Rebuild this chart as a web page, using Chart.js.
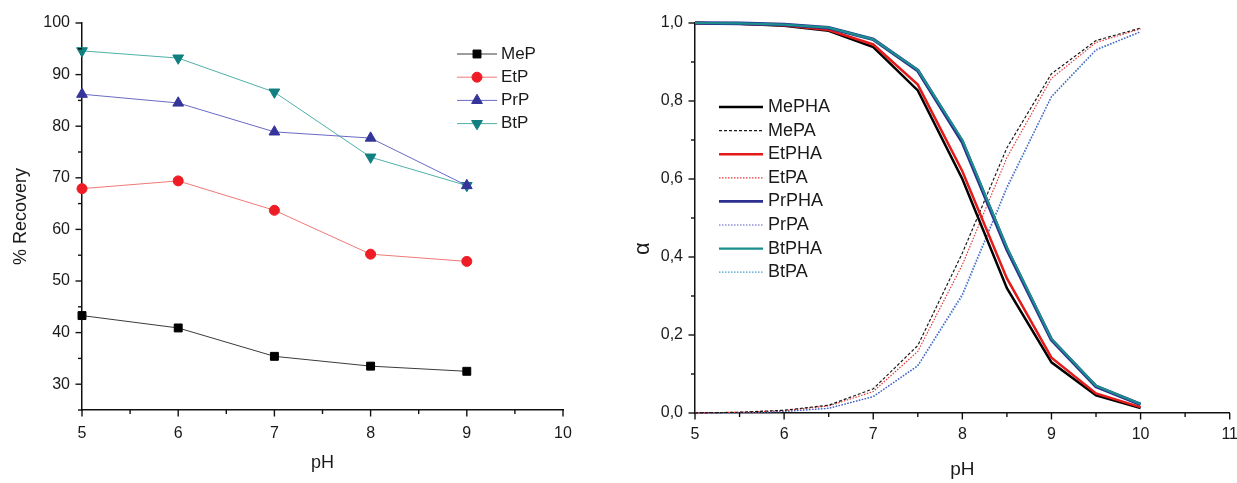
<!DOCTYPE html>
<html lang="en">
<head>
  <meta charset="UTF-8" />
  <title>Recovery and alpha vs pH</title>
  <script src="https://cdn.jsdelivr.net/npm/chart.js"></script>
  <style>
    html, body { margin: 0; padding: 0; background: #fff; overflow: hidden; }
    body { width: 1237px; height: 483px; position: relative; }
    .box { position: absolute; top: 0; height: 483px; }
    #leftBox { left: 0; width: 610px; }
    #rightBox { left: 620px; width: 630px; }
  </style>
</head>
<body>
<div class="box" id="leftBox"><canvas id="recoveryChart"></canvas></div>
<div class="box" id="rightBox"><canvas id="alphaChart"></canvas></div>

<script>
  // left panel: % recovery vs pH
  const phRecovery = [5, 6, 7, 8, 9];
  const mepRecovery = [43.3, 40.9, 35.4, 33.5, 32.5];
  const etpRecovery = [67.9, 69.4, 63.7, 55.2, 53.8];
  const prpRecovery = [86.2, 84.5, 78.9, 77.7, 68.5];
  const btpRecovery = [94.6, 93.2, 86.6, 74.0, 68.5];

  // right panel: fraction alpha vs pH
  const phAlpha = [5, 5.5, 6, 6.5, 7, 7.5, 8, 8.5, 9, 9.5, 10];
  const mePHA = [1.0, 0.998, 0.993, 0.98, 0.938, 0.827, 0.60, 0.32, 0.13, 0.045, 0.013];
  const mePA  = [0.0, 0.002, 0.007, 0.02, 0.062, 0.173, 0.41, 0.68, 0.87, 0.955, 0.987];
  const etPHA = [1.0, 0.998, 0.994, 0.982, 0.945, 0.842, 0.62, 0.345, 0.142, 0.05, 0.015];
  const etPA  = [0.0, 0.002, 0.006, 0.018, 0.055, 0.158, 0.38, 0.655, 0.858, 0.95, 0.985];
  const prPHA = [1.0, 0.999, 0.996, 0.988, 0.958, 0.878, 0.695, 0.42, 0.188, 0.068, 0.022];
  const prPA  = [0.0, 0.001, 0.004, 0.012, 0.042, 0.122, 0.305, 0.58, 0.812, 0.932, 0.978];
  const btPHA = [1.0, 0.999, 0.996, 0.988, 0.958, 0.88, 0.70, 0.425, 0.19, 0.07, 0.023];
  const btPA  = [0.0, 0.001, 0.004, 0.012, 0.042, 0.12, 0.30, 0.575, 0.81, 0.93, 0.977];

  const FONT = '"Liberation Sans", Arial, sans-serif';
  Chart.defaults.font.family = FONT;
  Chart.defaults.color = '#1a1a1a';

  const pts = (xs, ys) => xs.map((x, i) => ({ x, y: ys[i] }));

  // outward tick marks, long for labelled ticks and short for the others
  const tickMarks = {
    id: 'tickMarks',
    afterDraw(chart) {
      const { ctx, chartArea } = chart;
      ctx.save();
      ctx.strokeStyle = '#111';
      ctx.lineWidth = 1.4;
      Object.values(chart.scales).forEach(scale => {
        scale.ticks.forEach(t => {
          const len = t.label !== '' ? 6.5 : 4;
          const p = scale.getPixelForValue(t.value);
          ctx.beginPath();
          if (scale.isHorizontal()) {
            ctx.moveTo(p, chartArea.bottom);
            ctx.lineTo(p, chartArea.bottom + len);
          } else {
            ctx.moveTo(chartArea.left, p);
            ctx.lineTo(chartArea.left - len, p);
          }
          ctx.stroke();
        });
      });
      ctx.restore();
    }
  };

  // legend drawn inside the plot area
  const insideLegend = {
    id: 'insideLegend',
    afterDatasetsDraw(chart, args, opts) {
      const { ctx, chartArea } = chart;
      const x0 = chartArea.left + opts.x;
      const y0 = chartArea.top + opts.y;
      ctx.save();
      ctx.font = opts.fontSize + 'px ' + FONT;
      ctx.textBaseline = 'middle';
      chart.data.datasets.forEach((ds, i) => {
        const y = y0 + i * opts.rowHeight;
        ctx.strokeStyle = ds.borderColor;
        ctx.lineWidth = Math.min(ds.borderWidth, 2.6);
        ctx.setLineDash(ds.borderDash || []);
        ctx.beginPath();
        ctx.moveTo(x0, y);
        ctx.lineTo(x0 + opts.lineLength, y);
        ctx.stroke();
        ctx.setLineDash([]);
        if (ds.pointRadius) {
          ctx.fillStyle = ds.pointBackgroundColor;
          ctx.strokeStyle = ds.pointBorderColor;
          ctx.lineWidth = 1;
          Chart.helpers.drawPoint(ctx, {
            pointStyle: ds.pointStyle, rotation: ds.pointRotation || 0,
            radius: ds.pointRadius, borderWidth: 1
          }, x0 + opts.lineLength / 2, y);
        }
        ctx.fillStyle = '#1a1a1a';
        ctx.fillText(ds.label, x0 + opts.lineLength + opts.gap, y);
      });
      ctx.restore();
    }
  };

  function markerSet(label, ys, lineColor, markColor, style, radius, rot) {
    return {
      label, data: pts(phRecovery, ys),
      borderColor: lineColor, borderWidth: 1,
      pointStyle: style, pointRadius: radius, pointRotation: rot || 0,
      pointBackgroundColor: markColor, pointBorderColor: markColor, pointBorderWidth: 1,
      clip: false
    };
  }

  new Chart(document.getElementById('recoveryChart'), {
    type: 'line',
    data: {
      datasets: [
        markerSet('MeP', mepRecovery, '#3a3a3a', '#000000', 'rect', 5.6),
        markerSet('EtP', etpRecovery, '#f07878', '#ee1c25', 'circle', 5),
        markerSet('PrP', prpRecovery, '#6a6ac4', '#34349a', 'triangle', 6.2),
        markerSet('BtP', btpRecovery, '#4fb0a8', '#0f7f7f', 'triangle', 6.2, 180)
      ]
    },
    options: {
      responsive: true,
      maintainAspectRatio: false,
      animation: false,
      layout: { padding: { top: 23, right: 47, left: 0, bottom: 0 } },
      plugins: {
        legend: { display: false },
        tooltip: { enabled: false },
        insideLegend: { x: 375, y: 31, lineLength: 40, gap: 4, rowHeight: 23.2, fontSize: 17 }
      },
      scales: {
        x: {
          type: 'linear', min: 5, max: 10,
          grid: { display: false, drawTicks: false },
          border: { display: true, color: '#111', width: 1.5 },
          ticks: {
            stepSize: 0.5, autoSkip: false, maxRotation: 0, padding: 14,
            font: { size: 16 },
            callback: v => Number.isInteger(v) ? String(v) : ''
          },
          title: { display: true, text: 'pH', font: { size: 18 }, padding: { top: 0, bottom: 9 } },
          afterFit: s => { s.height = 73; }
        },
        y: {
          min: 25, max: 100,
          grid: { display: false, drawTicks: false },
          border: { display: true, color: '#111', width: 1.5 },
          ticks: {
            stepSize: 5, autoSkip: false, padding: 12,
            font: { size: 16 },
            callback: v => v % 10 === 0 ? String(v) : ''
          },
          title: { display: true, text: '% Recovery', font: { size: 18 }, padding: { top: 10, bottom: 0 } },
          afterFit: s => { s.width = 82; }
        }
      }
    },
    plugins: [tickMarks, insideLegend]
  });

  function curveSet(label, ys, color, width, dash, order) {
    return {
      label, data: pts(phAlpha, ys),
      borderColor: color, borderWidth: width, borderDash: dash,
      pointRadius: 0, order, clip: false
    };
  }

  new Chart(document.getElementById('alphaChart'), {
    type: 'line',
    data: {
      datasets: [
        curveSet('MePHA', mePHA, '#000000', 2.5, [], 3),
        curveSet('MePA', mePA, '#1a1a1a', 1.2, [3, 2], 4),
        curveSet('EtPHA', etPHA, '#e41b1b', 2.5, [], 2),
        curveSet('EtPA', etPA, '#e53a3a', 1.2, [1.5, 1.5], 5),
        curveSet('PrPHA', prPHA, '#2b2f8f', 3.6, [], 1),
        curveSet('PrPA', prPA, '#5a5ac8', 1.2, [1.5, 1.5], 6),
        curveSet('BtPHA', btPHA, '#1b8e8e', 2.2, [], 0),
        curveSet('BtPA', btPA, '#3d9fcf', 1.2, [1.5, 1.5], 7)
      ]
    },
    options: {
      responsive: true,
      maintainAspectRatio: false,
      animation: false,
      layout: { padding: { top: 23, right: 20, left: 0, bottom: 0 } },
      plugins: {
        legend: { display: false },
        tooltip: { enabled: false },
        insideLegend: { x: 24, y: 84, lineLength: 44, gap: 5, rowHeight: 23.6, fontSize: 18 }
      },
      scales: {
        x: {
          type: 'linear', min: 5, max: 11,
          grid: { display: false, drawTicks: false },
          border: { display: true, color: '#111', width: 1.5 },
          ticks: {
            stepSize: 0.5, autoSkip: false, maxRotation: 0, padding: 12,
            font: { size: 16 },
            callback: v => Number.isInteger(v) ? String(v) : ''
          },
          title: { display: true, text: 'pH', font: { size: 19 }, padding: { top: 0, bottom: 2 } },
          afterFit: s => { s.height = 70; }
        },
        y: {
          min: 0, max: 1,
          grid: { display: false, drawTicks: false },
          border: { display: true, color: '#111', width: 1.5 },
          ticks: {
            stepSize: 0.1, autoSkip: false, padding: 12,
            font: { size: 16 },
            callback: v => Math.round(v * 10) % 2 === 0 ? v.toFixed(1).replace('.', ',') : ''
          },
          title: {
            display: true, text: 'α          ', font: { size: 22 },
            padding: { top: 10, bottom: 0 }
          },
          afterFit: s => { s.width = 75; }
        }
      }
    },
    plugins: [tickMarks, insideLegend]
  });
</script>
</body>
</html>
